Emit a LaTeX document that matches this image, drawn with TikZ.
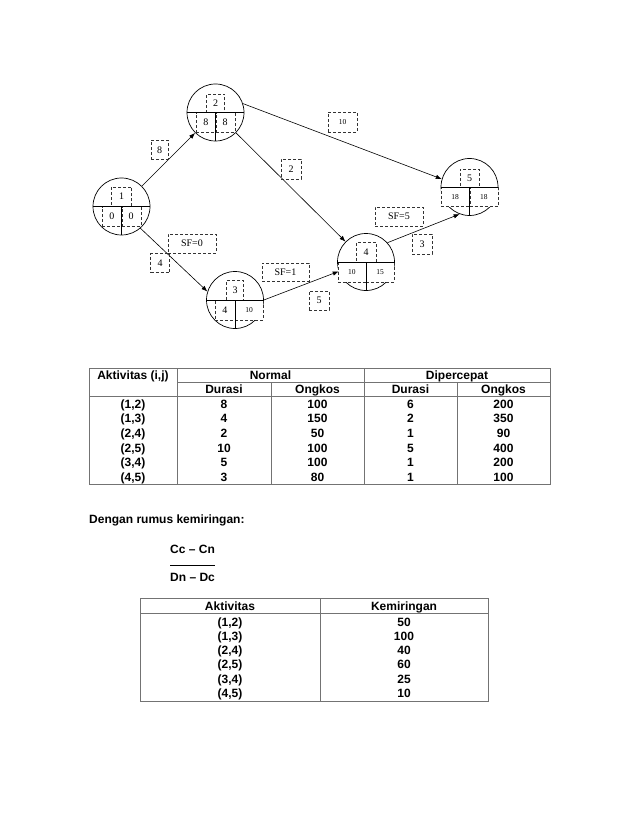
\documentclass[tikz,border=0pt]{standalone}
\usepackage{fontspec}
\setmainfont{Liberation Serif}
\setsansfont{Liberation Sans}
\usetikzlibrary{arrows.meta}

\begin{document}
\begin{tikzpicture}[x=1pt,y=-1pt,>={Latex[length=6pt,width=4.5pt]},
  event/.style={circle,draw,line width=0.7pt,minimum size=57pt,inner sep=0pt},
  dbox/.style={draw=black!80,densely dashed,line width=0.4pt,fill=white,inner sep=0pt,
    minimum height=19.5pt,font=\fontsize{10}{10}\selectfont},
  small/.style={font=\fontsize{7.5}{7.5}\selectfont},
  lbl/.style={draw=black!80,densely dashed,line width=0.4pt,inner sep=0pt,
    minimum height=19pt,minimum width=19pt,font=\fontsize{10}{10}\selectfont},
  tbl/.style={font=\sffamily\bfseries\fontsize{12}{14}\selectfont,inner sep=0pt,
    text height=8.6pt,text depth=0pt},
  rule/.style={draw=black!55,line width=0.6pt}]
\useasboundingbox (0,0) rectangle (638,826);

% events
\node[event] (n1) at (121.5,206.5) {};
\node[event] (n2) at (215.5,112.5) {};
\node[event] (n3) at (235,300) {};
\node[event] (n4) at (366,262) {};
\node[event] (n5) at (469.5,187) {};

\node[dbox,minimum width=20pt,anchor=south] (n1t) at (n1.center) {1};
\node[dbox,minimum width=19pt,anchor=north east] (n1l) at (n1.center) {0};
\node[dbox,minimum width=19pt,anchor=north west] (n1r) at (n1.center) {0};
\node[dbox,minimum width=18pt,minimum height=18pt,anchor=south] (n2t) at (n2.center) {2};
\node[dbox,minimum width=19pt,anchor=north east] (n2l) at (n2.center) {8};
\node[dbox,minimum width=19pt,anchor=north west] (n2r) at (n2.center) {8};
\node[dbox,minimum width=17pt,anchor=south] (n3t) at (n3.center) {3};
\node[dbox,minimum width=20pt,anchor=north east] (n3l) at (n3.center) {4};
\node[dbox,small,minimum width=28pt,anchor=north west] (n3r) at (n3.center) {10};
\node[dbox,minimum width=20pt,anchor=south] (n4t) at (n4.center) {4};
\node[dbox,small,minimum width=28pt,anchor=north east] (n4l) at (n4.center) {10};
\node[dbox,small,minimum width=28pt,anchor=north west] (n4r) at (n4.center) {15};
\node[dbox,minimum width=19pt,minimum height=18pt,anchor=south] (n5t) at (n5.center) {5};
\node[dbox,small,minimum width=28.5pt,anchor=north east] (n5l) at (n5.center) {18};
\node[dbox,small,minimum width=28.5pt,anchor=north west] (n5r) at (n5.center) {18};

\draw[line width=0.7pt] (n1.west) -- (n1.east) (n1.center) -- (n1.south);
\draw[line width=0.7pt] (n2.west) -- (n2.east) (n2.center) -- (n2.south);
\draw[line width=0.7pt] (n3.west) -- (n3.east) (n3.center) -- (n3.south);
\draw[line width=0.7pt] (n4.west) -- (n4.east) (n4.center) -- (n4.south);
\draw[line width=0.7pt] (n5.west) -- (n5.east) (n5.center) -- (n5.south);

% activities
\draw[->,line width=0.6pt] (n1) -- (n2);
\draw[->,line width=0.6pt] (n1.-49) -- (n3.163);
\draw[->,line width=0.6pt] (n2.18) -- (n5.164);
\draw[->,line width=0.6pt] (n2) -- (n4);
\draw[->,line width=0.6pt] (n3.0) -- (n4.199);
\draw[->,line width=0.6pt] (n4.42) -- (n5.250);

\node[lbl,minimum width=17pt] (d12) at (159.5,150) {8};
\node[lbl,minimum width=48pt] (sf13) at (192,243.5) {SF=0};
\node[lbl] (d13) at (160,263) {4};
\node[lbl,small,minimum width=29pt,minimum height=20pt] (d25) at (342.5,122) {10};
\node[lbl,minimum width=20pt,minimum height=20pt] (d24) at (291,169) {2};
\node[lbl,minimum width=48pt] (sf45) at (399,216.5) {SF=5};
\node[lbl,minimum width=20pt,minimum height=20pt] (d45) at (422,244) {3};
\node[lbl,minimum width=47pt,minimum height=18pt] (sf34) at (285.5,272) {SF=1};
\node[lbl,minimum width=20pt] (d34) at (319,300.5) {5};

% table of normal and crash values
\draw[rule] (89,368) rectangle (550,484);
\draw[rule] (89,396) -- (550,396);
\draw[rule] (177,382) -- (550,382);
\draw[rule] (177,368) -- (177,484);
\draw[rule] (364,368) -- (364,484);
\draw[rule] (271,382) -- (271,484);
\draw[rule] (457,382) -- (457,484);
\node[tbl] (hakt) at (133,375) {Aktivitas (i,j)};
\node[tbl] (hnor) at (270.5,375) {Normal};
\node[tbl] (hcep) at (457,375) {Dipercepat};
\node[tbl] (hdn) at (224,389) {Durasi};
\node[tbl] (hcn) at (317.5,389) {Ongkos};
\node[tbl] (hdc) at (410.5,389) {Durasi};
\node[tbl] (hcc) at (503.5,389) {Ongkos};
\foreach \p/\q/\b/\c/\d/\e [count=\r] in {1/2/8/100/6/200,1/3/4/150/2/350,
    2/4/2/50/1/90,2/5/10/100/5/400,3/4/5/100/1/200,4/5/3/80/1/100}{
  \node[tbl] (a\r) at (133,{389.4+14.6*\r}) {(\p,\q)};
  \node[tbl] (dn\r) at (224,{389.4+14.6*\r}) {\b};
  \node[tbl] (cn\r) at (317.5,{389.4+14.6*\r}) {\c};
  \node[tbl] (dc\r) at (410.5,{389.4+14.6*\r}) {\d};
  \node[tbl] (cc\r) at (503.5,{389.4+14.6*\r}) {\e};
}

% slope formula
\node[tbl,anchor=west] (rumus) at (89,519) {Dengan rumus kemiringan:};
\node[tbl,anchor=west] (atas) at (170,549) {Cc – Cn};
\node[tbl,anchor=west] (bawah) at (170,577) {Dn – Dc};
\draw[line width=0.8pt] (170,565) -- (215,565);

% table of slopes
\draw[rule] (140,598) rectangle (488,701);
\draw[rule] (140,613) -- (488,613);
\draw[rule] (320,598) -- (320,701);
\node[tbl] (kakt) at (230,606) {Aktivitas};
\node[tbl] (kmir) at (404,606) {Kemiringan};
\foreach \p/\q/\s [count=\r] in {1/2/50,1/3/100,2/4/40,2/5/60,3/4/25,4/5/10}{
  \node[tbl] (ka\r) at (230,{607.8+14.2*\r}) {(\p,\q)};
  \node[tbl] (ks\r) at (404,{607.8+14.2*\r}) {\s};
}
\end{tikzpicture}
\end{document}
